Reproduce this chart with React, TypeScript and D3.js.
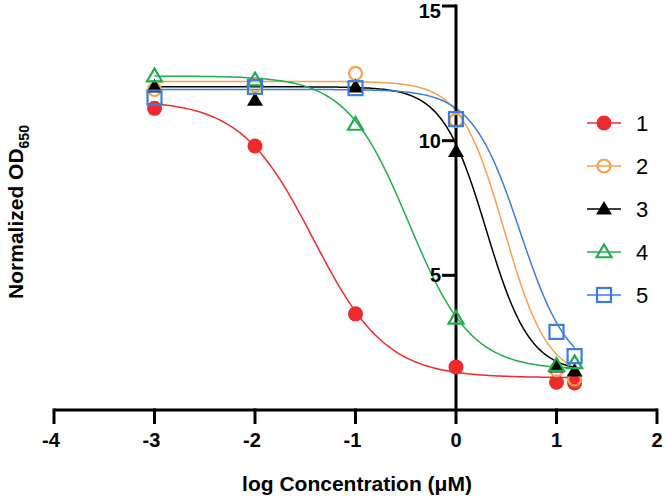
import React from "react";
import * as d3 from "d3";

const xValues = [-3, -2, -1, 0, 1, 1.18];
const seriesNames = ["1", "2", "3", "4", "5"];
const series1 = [11.2, 9.8, 3.57, 1.6, 1.03, 1.0];
const series2 = [11.9, 12.05, 12.5, 10.75, 1.5, 1.15];
const series3 = [12.0, 11.5, 12.0, 9.6, 1.6, 1.45];
const series4 = [12.4, 12.25, 10.6, 3.4, 1.65, 1.75];
const series5 = [11.6, 12.0, 11.95, 10.8, 2.9, 2.0];
// fitted 4-parameter logistic curves: [top, bottom, logIC50, hill]
const fit1 = [11.5, 1.2, -1.42, 1.2];
const fit2 = [12.2, 1.15, 0.48, 2.0];
const fit3 = [12.0, 1.4, 0.3, 2.0];
const fit4 = [12.4, 1.5, -0.47, 1.4];
const fit5 = [11.9, 1.3, 0.64, 1.8];
const xTicks = [-4, -3, -2, -1, 0, 1, 2];
const yTicks = [5, 10, 15];

const colors = ["#ee2a2c", "#f5a04a", "#000000", "#1faf4a", "#3a7de2"];
const markers = ["circleFilled", "circleOpen", "triFilled", "triOpen", "squareOpen"];

const W = 666;
const H = 497;

function Marker({ type, cx, cy, color }: { type: string; cx: number; cy: number; color: string }) {
  if (type === "circleFilled") return <circle cx={cx} cy={cy} r={7.5} fill={color} />;
  if (type === "circleOpen")
    return <circle cx={cx} cy={cy} r={6.5} fill="none" stroke={color} strokeWidth={2.2} />;
  if (type === "triFilled") {
    const s = 8;
    return (
      <path d={`M${cx},${cy - s} L${cx + s},${cy + s * 0.7} L${cx - s},${cy + s * 0.7} Z`} fill={color} />
    );
  }
  if (type === "triOpen") {
    const s = 7.5;
    return (
      <path
        d={`M${cx},${cy - s} L${cx + s},${cy + s * 0.7} L${cx - s},${cy + s * 0.7} Z`}
        fill="none"
        stroke={color}
        strokeWidth={2.2}
        strokeLinejoin="miter"
      />
    );
  }
  return (
    <rect x={cx - 7} y={cy - 7} width={14} height={14} fill="none" stroke={color} strokeWidth={2.2} />
  );
}

export default function App() {
  const x = d3.scaleLinear().domain([-4, 2]).range([54, 657]);
  const y = d3.scaleLinear().domain([0, 15]).range([410, 6]);
  const allSeries = [series1, series2, series3, series4, series5];
  const fits = [fit1, fit2, fit3, fit4, fit5];
  const xmin = d3.min(xValues) as number;
  const xmax = d3.max(xValues) as number;
  const samples = d3.range(0, 201).map((i) => xmin + ((xmax - xmin) * i) / 200);
  const line = d3
    .line<number>()
    .x((d) => x(d))
    .curve(d3.curveLinear);

  const font = "'Liberation Sans', Arial, Helvetica, sans-serif";
  const legendY = [123, 166, 209, 252, 295];

  return (
    <svg width={W} height={H} style={{ position: "absolute", left: 0, top: 0 }} fontFamily={font}>
      <rect width={W} height={H} fill="#fff" />
      {/* curves */}
      {fits.map((f, i) => {
        const [top, bottom, c, h] = f;
        const fn = (v: number) => bottom + (top - bottom) / (1 + Math.pow(10, (v - c) * h));
        const gen = line.y((d) => y(fn(d)));
        return <path key={i} d={gen(samples) || ""} fill="none" stroke={colors[i]} strokeWidth={1.5} />;
      })}
      {/* axes */}
      <line x1={x(-4)} x2={x(2)} y1={y(0)} y2={y(0)} stroke="#000" strokeWidth={3} />
      {xTicks.map((t) => (
        <g key={t}>
          <line x1={x(t)} x2={x(t)} y1={y(0) - 1.5} y2={y(0) + 14} stroke="#000" strokeWidth={3} />
          <text x={x(t) - (t < 0 ? 3 : 0)} y={447} textAnchor="middle" fontSize={20} fontWeight="bold">
            {t}
          </text>
        </g>
      ))}
      <line x1={x(0)} x2={x(0)} y1={y(15) - 1.5} y2={y(0)} stroke="#000" strokeWidth={3} />
      {yTicks.map((t) => (
        <g key={t}>
          <line x1={x(0) - 14} x2={x(0)} y1={y(t)} y2={y(t)} stroke="#000" strokeWidth={3} />
          <text
            x={x(0) - 15}
            y={Math.max(y(t) + 7, 18)}
            textAnchor="end"
            fontSize={20}
            fontWeight="bold"
          >
            {t}
          </text>
        </g>
      ))}
      {/* markers */}
      {allSeries.map((s, i) =>
        s.map((v, j) => (
          <Marker key={`${i}-${j}`} type={markers[i]} cx={x(xValues[j])} cy={y(v)} color={colors[i]} />
        ))
      )}
      {/* axis titles */}
      <text x={357} y={491} textAnchor="middle" fontSize={21} fontWeight="bold">
        log Concentration (μM)
      </text>
      <text transform="translate(23,212) rotate(-90)" textAnchor="middle" fontSize={21} fontWeight="bold">
        Normalized OD
        <tspan fontSize={14} dy={6}>
          650
        </tspan>
      </text>
      {/* legend */}
      {seriesNames.map((n, i) => (
        <g key={n}>
          <line x1={587} x2={621} y1={legendY[i]} y2={legendY[i]} stroke={colors[i]} strokeWidth={1.5} />
          <Marker type={markers[i]} cx={604} cy={legendY[i]} color={colors[i]} />
          <text x={636} y={legendY[i] + 8} fontSize={22}>
            {n}
          </text>
        </g>
      ))}
    </svg>
  );
}
